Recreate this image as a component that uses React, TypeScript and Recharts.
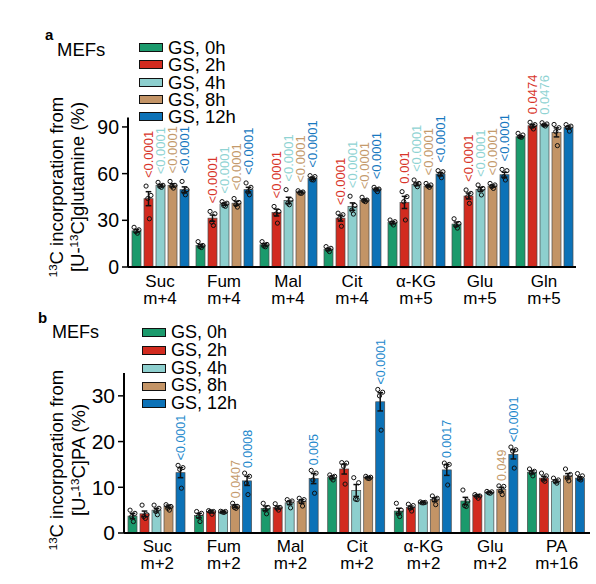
import React from "react";
import { BarChart, Bar, XAxis, YAxis, ErrorBar, Legend } from "recharts";

const FONT = "'Liberation Sans', Arial, sans-serif";

// ---------------- series ----------------
const SERIES = ["GS, 0h", "GS, 2h", "GS, 4h", "GS, 8h", "GS, 12h"];
const KEYS = ["h0", "h2", "h4", "h8", "h12"];
const FILLS = ["#1b9a6c", "#d22b1f", "#8dcfce", "#c39466", "#0c72b7"];
const P_COLORS = ["#1b9a6c", "#d8352a", "#8fd3d3", "#c49a6c", "#1778c0"];
const P_COLORS_B = ["#1b9a6c", "#d8352a", "#8fd3d3", "#c49a6c", "#2288cc"];

// ---------------- panel a: [U-13C]glutamine ----------------
const aMetabolites = ["Suc", "Fum", "Mal", "Cit", "α-KG", "Glu", "Gln"];
const aIsotopes = ["m+4", "m+4", "m+4", "m+4", "m+5", "m+5", "m+5"];
const aTicks = [0, 15, 30, 45, 60, 75, 90];

// one row per time point (0h, 2h, 4h, 8h, 12h)
const aMeans = [
  [23.2, 13.8, 14.3, 11.4, 28.5, 27.6, 83.7],
  [43.9, 31.4, 35.0, 31.4, 41.5, 45.6, 90.8],
  [52.3, 40.4, 42.8, 38.8, 53.1, 49.9, 91.2],
  [52.5, 41.0, 48.2, 43.0, 52.0, 52.0, 86.5],
  [49.7, 49.7, 57.0, 50.1, 59.7, 59.3, 89.7],
];
const aErrs = [
  [1.0, 0.8, 0.8, 0.6, 0.7, 1.3, 0.6],
  [4.5, 2.0, 2.2, 1.9, 3.9, 1.9, 0.9],
  [0.8, 0.8, 2.0, 2.4, 0.9, 1.3, 0.5],
  [1.0, 1.3, 0.5, 0.6, 0.5, 0.7, 2.9],
  [1.8, 1.5, 0.8, 0.6, 1.0, 1.6, 0.9],
];
const aPoints = [
  [[25.5, 23.9, 22.8, 21.7], [16.3, 13.8, 13.1, 12.5], [16.3, 14.5, 13.5, 13.0], [13.1, 12.0, 11.0, 9.9], [30.2, 29.1, 28.1, 27.0], [31.0, 28.0, 26.5, 25.0], [85.9, 84.8, 83.7, 83.3]],
  [[52.0, 46.0, 44.0, 31.0], [35.7, 34.2, 28.8, 26.7], [38.9, 35.7, 34.0, 28.2], [34.6, 33.6, 31.2, 26.2], [48.4, 45.2, 42.0, 30.2], [49.5, 47.3, 45.2, 40.9], [93.0, 91.5, 90.0, 88.7]],
  [[54.4, 52.5, 51.8, 51.2], [42.0, 41.0, 39.5, 39.0], [49.7, 43.2, 41.0, 40.0], [45.5, 39.5, 36.5, 34.0], [55.9, 53.7, 53.3, 51.6], [52.7, 50.5, 49.5, 46.3], [92.7, 91.9, 91.2, 90.6]],
  [[55.0, 52.5, 51.8, 50.7], [44.0, 41.5, 40.0, 38.5], [49.0, 48.2, 47.5, 47.3], [44.8, 43.0, 42.6, 42.0], [53.7, 52.7, 52.0, 51.2], [53.7, 52.7, 51.6, 50.5], [91.6, 89.5, 87.0, 78.0]],
  [[55.0, 49.7, 48.2, 46.4], [54.0, 51.2, 48.2, 46.4], [58.7, 58.1, 56.1, 55.9], [51.2, 50.1, 49.5, 48.4], [61.9, 61.2, 59.1, 57.4], [62.7, 61.9, 58.0, 55.9], [91.5, 90.5, 89.5, 87.3]],
];
const aPValues = [
  ["", "", "", "", "", "", ""],
  ["<0.0001", "<0.0001", "<0.0001", "<0.0001", "0.001", "<0.0001", "0.0474"],
  ["<0.0001", "<0.0001", "<0.0001", "<0.0001", "<0.0001", "<0.0001", "0.0476"],
  ["<0.0001", "<0.0001", "<0.0001", "<0.0001", "<0.0001", "<0.0001", ""],
  ["<0.0001", "<0.0001", "<0.0001", "<0.0001", "<0.0001", "<0.0001", ""],
];

// ---------------- panel b: [U-13C]PA ----------------
const bMetabolites = ["Suc", "Fum", "Mal", "Cit", "α-KG", "Glu", "PA"];
const bIsotopes = ["m+2", "m+2", "m+2", "m+2", "m+2", "m+2", "m+16"];
const bTicks = [0, 10, 20, 30];

const bMeans = [
  [3.7, 3.8, 5.4, 12.2, 4.8, 7.0, 13.3],
  [4.2, 4.7, 5.6, 14.0, 5.6, 8.2, 12.0],
  [5.0, 4.6, 6.6, 9.3, 6.7, 8.9, 11.3],
  [5.8, 5.9, 6.9, 12.2, 7.3, 9.5, 12.5],
  [13.2, 11.4, 11.9, 28.7, 13.8, 17.2, 12.0],
];
const bErrs = [
  [0.6, 0.5, 0.5, 0.3, 0.6, 0.8, 0.3],
  [0.6, 0.2, 0.3, 1.1, 0.3, 0.2, 0.4],
  [0.4, 0.1, 0.4, 1.3, 0.1, 0.1, 0.3],
  [0.3, 0.3, 0.4, 0.15, 0.4, 0.5, 0.5],
  [1.1, 1.0, 1.1, 2.0, 1.2, 1.0, 0.3],
];
const bPoints = [
  [[5.0, 4.3, 3.6, 2.5], [4.7, 4.3, 3.6, 2.5], [6.5, 5.6, 5.05, 4.2], [12.7, 12.4, 12.0, 11.6], [6.5, 5.0, 4.2, 3.6], [9.4, 7.0, 6.0, 5.8], [14.0, 13.5, 13.1, 12.5]],
  [[6.1, 4.0, 3.6, 3.2], [4.9, 4.7, 4.7, 4.1], [6.4, 5.6, 5.4, 5.0], [15.4, 15.3, 14.6, 10.7], [6.3, 6.0, 5.4, 4.8], [8.4, 8.1, 8.0, 7.6], [13.1, 12.5, 11.6, 11.3]],
  [[6.1, 5.4, 4.7, 4.0], [4.75, 4.7, 4.6, 4.5], [7.3, 7.0, 6.6, 5.5], [12.1, 11.0, 7.4, 7.3], [6.8, 6.7, 6.6, 6.6], [9.1, 9.0, 8.8, 8.7], [12.0, 11.6, 11.3, 10.9]],
  [[6.2, 5.8, 5.4, 5.0], [6.5, 5.8, 5.6, 5.4], [7.6, 7.3, 6.8, 5.9], [12.4, 12.2, 12.0, 11.9], [8.1, 7.6, 7.2, 6.2], [10.3, 10.2, 9.1, 8.4], [14.0, 12.8, 12.0, 11.4]],
  [[14.8, 14.3, 13.9, 9.8], [13.1, 12.4, 10.9, 8.4], [13.7, 13.1, 11.6, 8.7], [31.4, 30.8, 30.0, 22.5], [15.3, 15.0, 14.6, 10.5], [18.8, 18.2, 17.9, 14.2], [13.0, 12.5, 11.8, 11.6]],
];
const bPValues = [
  ["", "", "", "", "", "", ""],
  ["", "", "", "", "", "", ""],
  ["", "", "", "", "", "", ""],
  ["", "0.0407", "", "", "", "0.049", ""],
  ["<0.0001", "0.0008", "0.005", "<0.0001", "0.0017", "<0.0001", ""],
];

// horizontal spread of the replicate dots inside a bar (fraction of bar width)
const JITTER = [-0.27, 0.27, -0.08, 0.1];

function buildRows(names, means, errs, pts, pvals) {
  return names.map((name, i) => {
    const row: any = { name };
    KEYS.forEach((k, s) => {
      row[k] = means[s][i];
      row[k + "Err"] = errs[s][i];
      row[k + "Pts"] = pts[s][i];
      row[k + "P"] = pvals[s][i];
    });
    return row;
  });
}

function makeShape(key: string, pColor: string, gap: number, pFont: number) {
  return (props: any) => {
    const { x, y, width, height, fill, payload } = props;
    const mean = payload[key];
    const base = y + height;
    const k = mean ? height / mean : 0;
    const pts: number[] = payload[key + "Pts"];
    const err = payload[key + "Err"];
    const cx = x + width / 2;
    const topVal = Math.max(mean + err, ...pts);
    const ty = base - topVal * k - gap;
    const p = payload[key + "P"];
    return (
      <g>
        <rect x={x} y={y} width={width} height={height} fill={fill} stroke="#4a4a4a" strokeWidth={0.7} />
        {pts.map((v, j) => (
          <circle key={j} cx={cx + JITTER[j] * width} cy={base - v * k} r={2.1} fill="none" stroke="#111" strokeWidth={1} />
        ))}
        {p ? (
          <text x={cx} y={ty} dy="0.36em" transform={`rotate(-90 ${cx} ${ty})`} fontSize={pFont} fill={pColor} fontFamily={FONT}>
            {p}
          </text>
        ) : null}
      </g>
    );
  };
}

const makeLegend = (fontSize: number, rowH: number) => ({ payload }: any) => {
  const items = [...(payload || [])].sort((p: any, q: any) => SERIES.indexOf(p.value) - SERIES.indexOf(q.value));
  return (
    <div style={{ fontFamily: FONT, fontSize, color: "#000" }}>
      {items.map((e: any, i: number) => (
        <div key={i} style={{ display: "flex", alignItems: "center", height: rowH, lineHeight: rowH + "px", whiteSpace: "nowrap" }}>
          <span style={{ display: "inline-block", width: 24, height: 9, background: e.color, border: "1.4px solid #111", boxSizing: "border-box", marginRight: 5 }} />
          {e.value}
        </div>
      ))}
    </div>
  );
};

function Panel(props: any) {
  const { top, width, height, rows, isotopes, domain, ticks, margin, yWidth, xHeight, tickFont, catFont, d1, d2, pColors, gap, pFont, legendFont, legendRow, legendPos } = props;
  const CatTick = ({ x, y, payload }: any) => (
    <text x={x} textAnchor="middle" fontSize={catFont} fontFamily={FONT} fill="#000">
      <tspan x={x} y={y + d1}>{payload.value}</tspan>
      <tspan x={x} y={y + d2}>{isotopes[payload.index]}</tspan>
    </text>
  );
  return (
    <div style={{ position: "absolute", left: 0, top }}>
      <BarChart width={width} height={height} data={rows} margin={margin} barCategoryGap={4} barGap={3}>
        <XAxis dataKey="name" interval={0} height={xHeight} tickLine={false} tickSize={0} tickMargin={0} axisLine={{ stroke: "#000", strokeWidth: 2 }} tick={<CatTick />} />
        <YAxis
          width={yWidth}
          domain={domain}
          ticks={ticks}
          tickSize={6}
          tickMargin={3}
          axisLine={{ stroke: "#000", strokeWidth: 2 }}
          tickLine={{ stroke: "#000", strokeWidth: 1.5 }}
          tick={{ fontSize: tickFont, fill: "#000", fontFamily: FONT }}
        />
        <Legend layout="vertical" align="center" verticalAlign="middle" content={makeLegend(legendFont, legendRow)} wrapperStyle={{ left: legendPos[0], top: legendPos[1], width: "auto", height: "auto" }} />
        {KEYS.map((k, s) => (
          <Bar key={k} dataKey={k} name={SERIES[s]} fill={FILLS[s]} isAnimationActive={false} shape={makeShape(k, pColors[s], gap, pFont)}>
            <ErrorBar dataKey={k + "Err"} width={2.8} stroke="#111" strokeWidth={1.5} direction="y" isAnimationActive={false} />
          </Bar>
        ))}
      </BarChart>
    </div>
  );
}

const YLabel = ({ x1, x2, cy, line2 }: any) => (
  <g fontFamily={FONT} fontSize={18.5} fill="#000">
    <text transform={`translate(${x1} ${cy}) rotate(-90)`} textAnchor="middle">
      <tspan fontSize={11.5} baselineShift="super">13</tspan>
      <tspan>C incorporation from</tspan>
    </text>
    <text transform={`translate(${x2} ${cy}) rotate(-90)`} textAnchor="middle">
      <tspan>[U-</tspan>
      <tspan fontSize={11.5} baselineShift="super">13</tspan>
      <tspan>{line2}</tspan>
    </text>
  </g>
);

export default function App() {
  const rowsA = buildRows(aMetabolites, aMeans, aErrs, aPoints, aPValues);
  const rowsB = buildRows(bMetabolites, bMeans, bErrs, bPoints, bPValues);
  return (
    <div style={{ position: "absolute", left: 0, top: 0, width: 596, height: 584, background: "#fff", overflow: "hidden" }}>
      <Panel
        top={0}
        width={596}
        height={310}
        rows={rowsA}
        isotopes={aIsotopes}
        domain={[0, 96]}
        ticks={aTicks}
        margin={{ top: 117.6, right: 20, bottom: 0, left: 0 }}
        yWidth={128}
        xHeight={43}
        tickFont={19.5}
        catFont={17}
        d1={20}
        d2={37}
        pColors={P_COLORS}
        gap={8}
        pFont={13}
        legendFont={18.5}
        legendRow={17.25}
        legendPos={[139, 39]}
      />
      <Panel
        top={280}
        width={596}
        height={304}
        rows={rowsB}
        isotopes={bIsotopes}
        domain={[0, 35]}
        ticks={bTicks}
        margin={{ top: 93, right: 6, bottom: 0, left: 0 }}
        yWidth={124}
        xHeight={51}
        tickFont={21}
        catFont={17}
        d1={19}
        d2={36}
        pColors={P_COLORS_B}
        gap={5}
        pFont={12.5}
        legendFont={18}
        legendRow={17.75}
        legendPos={[142, 44]}
      />
      <svg width={596} height={584} style={{ position: "absolute", left: 0, top: 0, pointerEvents: "none" }}>
        <text x={45} y={40} fontFamily={FONT} fontWeight="bold" fontSize={15}>a</text>
        <text x={57} y={56} fontFamily={FONT} fontSize={18.5}>MEFs</text>
        <text x={38} y={323} fontFamily={FONT} fontWeight="bold" fontSize={15}>b</text>
        <text x={52} y={338} fontFamily={FONT} fontSize={18}>MEFs</text>
        <YLabel x1={63} x2={84} cy={187} line2="C]glutamine (%)" />
        <YLabel x1={63} x2={85} cy={460} line2="C]PA (%)" />
      </svg>
    </div>
  );
}
